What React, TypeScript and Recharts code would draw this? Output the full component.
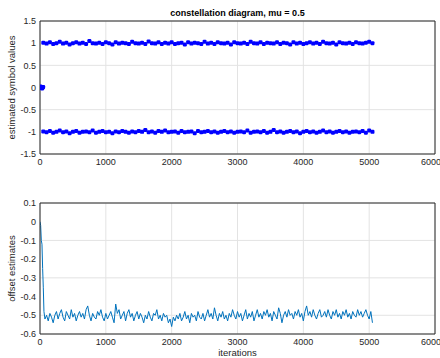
import { ScatterChart, Scatter, LineChart, Line, XAxis, YAxis, CartesianGrid } from "recharts";

const xTicks = [0, 1000, 2000, 3000, 4000, 5000, 6000];
const symbolTicks = [-1.5, -1, -0.5, 0, 0.5, 1, 1.5];
const offsetTicks = [-0.6, -0.5, -0.4, -0.3, -0.2, -0.1, 0, 0.1];

// first iterations, before the loop locks (symbols near zero)
const zeroIters = [0, 8, 16, 24, 32, 40, 48];
const zeroValues = [0.0, 0.02, -0.01, 0.01, -0.02, 0.0, 0.01];

// symbol bands, one sample every 50 iterations from 50 to 5050
const bandStart = 50;
const bandStep = 50;
const upperValues = [
  1.01, 0.99, 1.02, 0.98, 1.0, 1.03, 0.99, 1.01, 0.97, 1.0,
  1.02, 0.99, 1.01, 0.98, 1.05, 1.0, 0.99, 1.01, 0.98, 1.02,
  1.0, 0.97, 1.02, 0.99, 1.01, 1.0, 0.98, 1.03, 1.0, 0.99,
  1.01, 0.98, 1.04, 1.0, 0.99, 1.02, 0.98, 1.01, 0.99, 1.02,
  0.98, 1.0, 1.01, 0.97, 1.02, 0.99, 1.01, 1.0, 0.98, 1.03,
  0.99, 1.01, 0.98, 1.02, 1.0, 0.99, 1.01, 0.97, 1.02, 1.0,
  0.99, 1.01, 0.98, 1.03, 1.0, 0.99, 1.02, 0.98, 1.01, 1.0,
  0.99, 1.02, 0.98, 1.01, 1.0, 0.97, 1.02, 0.99, 1.01, 0.98,
  1.0, 1.02, 0.99, 1.01, 0.98, 1.03, 1.0, 0.99, 1.01, 0.97,
  1.02, 1.0, 0.99, 1.01, 0.98, 1.02, 1.0, 0.99, 1.01, 1.03,
  1.0,
];
const lowerValues = [
  -0.99, -1.01, -0.98, -1.02, -1.0, -0.97, -1.01, -0.99, -1.03, -1.0,
  -0.98, -1.02, -1.0, -0.99, -1.01, -0.97, -1.02, -1.0, -0.98, -1.01,
  -1.0, -1.03, -0.99, -1.01, -0.98, -1.0, -1.02, -0.99, -1.01, -0.98,
  -1.0, -0.96, -1.01, -0.99, -1.02, -0.98, -1.0, -0.97, -1.01, -1.0,
  -0.99, -1.02, -0.98, -1.01, -1.0, -0.99, -1.03, -0.98, -1.01, -1.0,
  -0.98, -1.01, -0.99, -1.02, -1.0, -0.98, -1.01, -0.99, -1.02, -1.0,
  -0.99, -1.01, -0.97, -1.02, -1.0, -0.99, -1.01, -0.98, -1.02, -1.0,
  -0.96, -1.01, -0.99, -1.02, -1.0, -0.98, -1.01, -0.99, -1.03, -1.0,
  -0.98, -1.01, -0.99, -1.02, -1.0, -0.97, -1.01, -0.99, -1.02, -1.0,
  -0.98, -1.01, -0.99, -1.02, -1.0, -0.99, -1.01, -0.98, -1.02, -0.97,
  -1.0,
];

// offset estimate: start-up transient, then every 25 iterations from 100 to 5050
const offsetHeadIters = [0, 10, 20, 30, 40, 50, 60, 75];
const offsetHeadValues = [0, -0.02, -0.1, -0.12, -0.25, -0.35, -0.48, -0.52];
const offsetStart = 100;
const offsetStep = 25;
const offsetValues = [
  -0.5, -0.53, -0.49, -0.51, -0.54, -0.5, -0.48, -0.52, -0.49, -0.47,
  -0.51, -0.53, -0.48, -0.5, -0.52, -0.47, -0.51, -0.49, -0.53, -0.5,
  -0.48, -0.51, -0.49, -0.52, -0.47, -0.45, -0.5, -0.53, -0.49, -0.51,
  -0.52, -0.48, -0.5, -0.47, -0.51, -0.53, -0.49, -0.52, -0.5, -0.48,
  -0.51, -0.54, -0.44, -0.49, -0.47, -0.52, -0.5, -0.48, -0.53, -0.49,
  -0.47, -0.51, -0.49, -0.53, -0.5, -0.48, -0.52, -0.49, -0.51, -0.54,
  -0.5, -0.52, -0.48, -0.51, -0.53, -0.49, -0.5, -0.47, -0.52, -0.5,
  -0.53, -0.49, -0.51, -0.5, -0.54, -0.52, -0.56, -0.51, -0.53, -0.5,
  -0.52, -0.49, -0.53, -0.51, -0.48, -0.52, -0.5, -0.54, -0.49, -0.51,
  -0.5, -0.53, -0.48, -0.51, -0.52, -0.49, -0.53, -0.5, -0.47, -0.51,
  -0.49, -0.52, -0.46, -0.5, -0.53, -0.49, -0.51, -0.48, -0.52, -0.5,
  -0.53, -0.49, -0.51, -0.47, -0.5, -0.52, -0.48, -0.51, -0.49, -0.53,
  -0.5, -0.47, -0.52, -0.49, -0.51, -0.48, -0.53, -0.5, -0.47, -0.51,
  -0.49, -0.52, -0.48, -0.5, -0.47, -0.51, -0.49, -0.53, -0.48, -0.5,
  -0.52, -0.46, -0.49, -0.54, -0.5, -0.48, -0.51, -0.47, -0.5, -0.49,
  -0.52, -0.48, -0.5, -0.47, -0.51, -0.49, -0.53, -0.48, -0.45, -0.5,
  -0.48, -0.51, -0.47, -0.5, -0.52, -0.49, -0.47, -0.51, -0.5, -0.48,
  -0.51, -0.47, -0.5, -0.52, -0.48, -0.5, -0.47, -0.51, -0.49, -0.52,
  -0.48, -0.5, -0.47, -0.51, -0.49, -0.52, -0.48, -0.5, -0.51, -0.47,
  -0.5, -0.48, -0.51, -0.49, -0.47, -0.5, -0.52, -0.48, -0.54,
];

const symbolPoints = [
  ...zeroIters.map((x, i) => ({ x, y: zeroValues[i] })),
  ...upperValues.map((y, i) => ({ x: bandStart + i * bandStep, y })),
  ...lowerValues.map((y, i) => ({ x: bandStart + i * bandStep, y })),
];

const offsetPoints = [
  ...offsetHeadIters.map((x, i) => ({ x, y: offsetHeadValues[i] })),
  ...offsetValues.map((y, i) => ({ x: offsetStart + i * offsetStep, y })),
];

const ink = "#262626";
const tickStyle = { fill: ink, fontSize: 9 };
const gridColor = "#e3e3e3";

// dense '.' markers: slightly wider than the spacing so the band reads solid
const Dot = (p: any) => (
  <rect x={p.cx - 2} y={p.cy - 2} width={4} height={4} rx={1.2} fill="#0000ff" />
);

const App = () => {
  return (
    <div
      style={{
        position: "absolute",
        left: 0,
        top: 0,
        width: 440,
        height: 358,
        background: "#fff",
        fontFamily: '"Liberation Sans", Arial, sans-serif',
      }}
    >
      <ScatterChart width={440} height={180} margin={{ top: 21, right: 5, bottom: 0, left: 0 }}>
        <CartesianGrid stroke={gridColor} />
        <XAxis
          dataKey="x"
          type="number"
          domain={[0, 6000]}
          ticks={xTicks}
          height={26}
          allowDataOverflow
          tick={tickStyle}
          tickLine={false}
          tickSize={2}
          tickMargin={3}
          axisLine={{ stroke: ink }}
        />
        <XAxis
          xAxisId="top"
          orientation="top"
          type="number"
          domain={[0, 6000]}
          ticks={xTicks}
          height={1}
          mirror
          tick={false}
          tickSize={3}
          tickLine={{ stroke: ink }}
          axisLine={{ stroke: ink }}
          label={{ value: "constellation diagram, mu = 0.5", position: "top", offset: 5, fill: "#000", fontSize: 9, fontWeight: "bold" }}
        />
        <YAxis
          dataKey="y"
          type="number"
          domain={[-1.5, 1.5]}
          ticks={symbolTicks}
          width={40}
          allowDataOverflow
          tick={tickStyle}
          tickLine={false}
          tickSize={2}
          tickMargin={2}
          axisLine={{ stroke: ink }}
          label={{
            value: "estimated symbol values",
            angle: -90,
            position: "insideLeft",
            offset: 12,
            fill: ink,
            fontSize: 9.5,
            style: { textAnchor: "middle" },
          }}
        />
        <YAxis
          yAxisId="right"
          orientation="right"
          type="number"
          domain={[-1.5, 1.5]}
          ticks={symbolTicks}
          width={1}
          mirror
          tick={false}
          tickSize={3}
          tickLine={{ stroke: ink }}
          axisLine={{ stroke: ink }}
        />
        <Scatter data={symbolPoints} shape={Dot} isAnimationActive={false} />
      </ScatterChart>

      <LineChart width={440} height={178} data={offsetPoints} margin={{ top: 23, right: 5, bottom: 0, left: 0 }}>
        <CartesianGrid stroke={gridColor} />
        <XAxis
          dataKey="x"
          type="number"
          domain={[0, 6000]}
          ticks={xTicks}
          height={24}
          allowDataOverflow
          tick={tickStyle}
          tickLine={false}
          tickSize={2}
          tickMargin={3}
          axisLine={{ stroke: ink }}
          label={{ value: "iterations", position: "insideBottom", offset: 2, fill: ink, fontSize: 9.5 }}
        />
        <XAxis
          xAxisId="top"
          orientation="top"
          type="number"
          domain={[0, 6000]}
          ticks={xTicks}
          height={1}
          mirror
          tick={false}
          tickSize={3}
          tickLine={{ stroke: ink }}
          axisLine={{ stroke: ink }}
        />
        <YAxis
          type="number"
          domain={[-0.6, 0.1]}
          ticks={offsetTicks}
          width={40}
          allowDataOverflow
          tick={tickStyle}
          tickLine={false}
          tickSize={2}
          tickMargin={2}
          axisLine={{ stroke: ink }}
          label={{
            value: "offset estimates",
            angle: -90,
            position: "insideLeft",
            offset: 12,
            fill: ink,
            fontSize: 9.5,
            style: { textAnchor: "middle" },
          }}
        />
        <YAxis
          yAxisId="right"
          orientation="right"
          type="number"
          domain={[-0.6, 0.1]}
          ticks={offsetTicks}
          width={1}
          mirror
          tick={false}
          tickSize={3}
          tickLine={{ stroke: ink }}
          axisLine={{ stroke: ink }}
        />
        <Line type="linear" dataKey="y" stroke="#0072bd" strokeWidth={1} dot={false} isAnimationActive={false} />
      </LineChart>
    </div>
  );
};

export default App;
